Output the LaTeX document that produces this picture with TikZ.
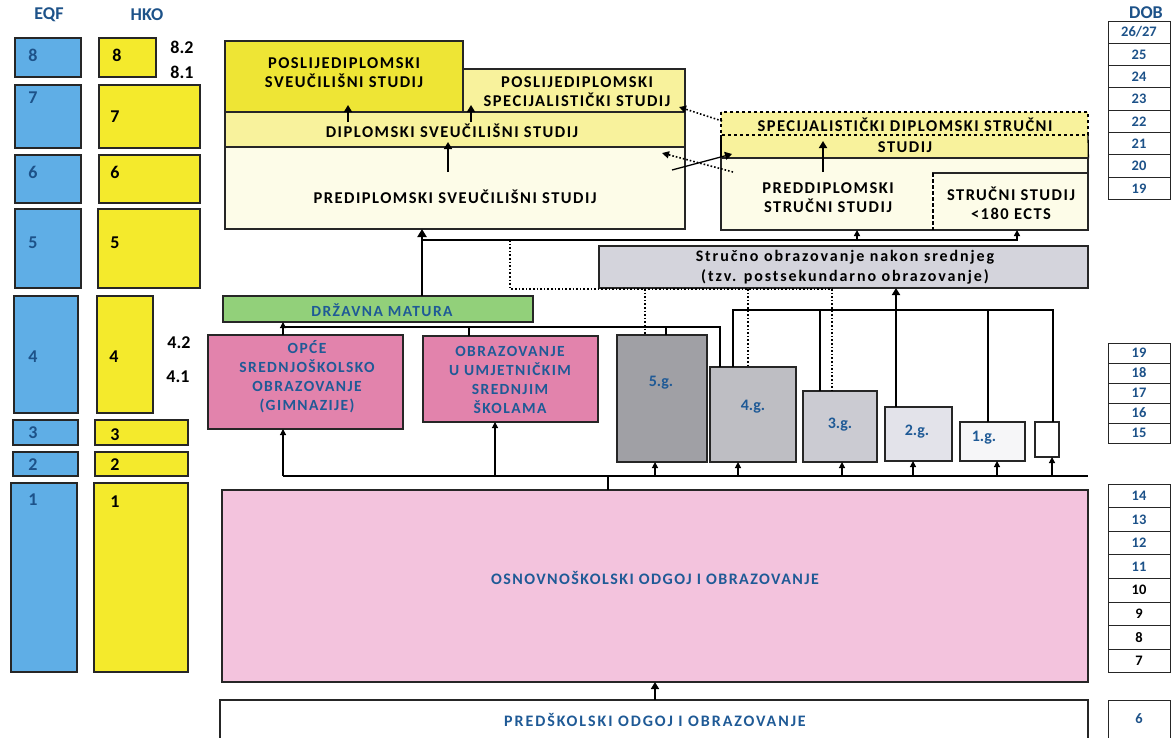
\documentclass[tikz,border=0pt]{standalone}
\usepackage{fontspec}
\setmainfont{Carlito}
\newfontfamily\lab[LetterSpace=9]{Carlito}
\newfontfamily\labw[LetterSpace=12]{Carlito}
\newfontfamily\labn{Carlito}
\usetikzlibrary{arrows.meta}
\definecolor{eqfblue}{HTML}{5FAEE6}
\definecolor{hkoyel}{HTML}{F4EA2C}
\definecolor{pdyel}{HTML}{EEE535}
\definecolor{ltyel}{HTML}{F8F29C}
\definecolor{paleyel}{HTML}{FDFCE8}
\definecolor{pinkA}{HTML}{E283AC}
\definecolor{pinkB}{HTML}{F3C3DD}
\definecolor{matgreen}{HTML}{92D07A}
\definecolor{grayb}{HTML}{D4D4DC}
\definecolor{gA}{HTML}{A0A0A5}
\definecolor{gB}{HTML}{BEBEC3}
\definecolor{gC}{HTML}{CBCBD2}
\definecolor{gD}{HTML}{E3E3EA}
\definecolor{gE}{HTML}{F6F6F8}
\definecolor{txtblue}{HTML}{1F5A96}
\definecolor{numblue}{HTML}{1D5289}
\begin{document}
\begin{tikzpicture}[x=1pt,y=-1pt,
  bx/.style={draw=black!85,line width=1.3pt,inner sep=0pt,outer sep=0pt,anchor=north west},
  tx/.style={inner sep=0pt,align=center,font=\lab\bfseries\fontsize{16.5}{19}\selectfont},
  txb/.style={tx,text=txtblue},
  num/.style={inner sep=0pt,font=\labn\bfseries\fontsize{18}{20}\selectfont},
  hdr/.style={inner sep=0pt,font=\labn\bfseries\fontsize{18}{20}\selectfont,text=numblue},
  dobbox/.style={bx,minimum width=62pt,line width=1pt},
  dobtx/.style={inner sep=0pt,font=\labn\bfseries\fontsize{14.5}{16}\selectfont,text=numblue},
  glab/.style={inner sep=0pt,font=\labn\bfseries\fontsize{16}{18}\selectfont,text=txtblue},
  arr/.style={-{Triangle[length=7pt,width=8pt]},line width=1.6pt},
  sarr/.style={-{Triangle[length=6pt,width=6pt]},line width=1.2pt},
  thk/.style={line width=2.6pt},
  thn/.style={line width=1.5pt},
  dotln/.style={dotted,line width=1.6pt}
]
\useasboundingbox[fill=white] (0,0) rectangle (1174,737);

% ---------- headers
\node[hdr] (hEQF) at (49,15) {EQF};
\node[hdr] (hHKO) at (147,15) {HKO};
\node[hdr] (hDOB) at (1146,13) {DOB};

% ---------- EQF column
\node[bx,fill=eqfblue,minimum width=66pt,minimum height=39pt] (e8) at (15,38) {};
\node[bx,fill=eqfblue,minimum width=66pt,minimum height=63pt] (e7) at (15,85) {};
\node[bx,fill=eqfblue,minimum width=66pt,minimum height=48pt] (e6) at (15,155) {};
\node[bx,fill=eqfblue,minimum width=66pt,minimum height=79pt] (e5) at (15,209) {};
\node[bx,fill=eqfblue,minimum width=64pt,minimum height=117pt] (e4) at (14,296) {};
\node[bx,fill=eqfblue,minimum width=65pt,minimum height=25pt] (e3) at (13,420) {};
\node[bx,fill=eqfblue,minimum width=65pt,minimum height=24pt] (e2) at (13,452) {};
\node[bx,fill=eqfblue,minimum width=66pt,minimum height=189pt] (e1) at (11,483) {};
\foreach \n/\yy in {8/55,7/98,6/172,5/243,4/357,3/433,2/465,1/500}
  \node[num,text=numblue] (ne\n) at (33,\yy) {\n};

% ---------- HKO column
\node[bx,fill=hkoyel,minimum width=57pt,minimum height=39pt] (h8) at (99,38) {};
\node[bx,fill=hkoyel,minimum width=101pt,minimum height=63pt] (h7) at (99,85) {};
\node[bx,fill=hkoyel,minimum width=101pt,minimum height=48pt] (h6) at (99,155) {};
\node[bx,fill=hkoyel,minimum width=102pt,minimum height=79pt] (h5) at (98,209) {};
\node[bx,fill=hkoyel,minimum width=56pt,minimum height=117pt] (h4) at (97,296) {};
\node[bx,fill=hkoyel,minimum width=93pt,minimum height=25pt] (h3) at (95,420) {};
\node[bx,fill=hkoyel,minimum width=93pt,minimum height=24pt] (h2) at (95,452) {};
\node[bx,fill=hkoyel,minimum width=94pt,minimum height=189pt] (h1) at (94,483) {};
\foreach \n/\xx/\yy in {8/117/55,7/115/117,6/115/172,5/115/243,4/114/357,3/115/435,2/115/465,1/115/502}
  \node[num] (nh\n) at (\xx,\yy) {\n};
\node[num] (s82) at (182,47) {8.2};
\node[num] (s81) at (182,72) {8.1};
\node[num] (s42) at (179,343) {4.2};
\node[num] (s41) at (178,377) {4.1};

% ---------- DOB column
\node[dobbox,minimum height=22pt] (dA0) at (1108,21) {};
\node[dobtx] (tA0) at (dA0.center) {26/27};
\foreach \t [count=\i from 1] in {25,24,23,22,21,20,19}{
  \node[dobbox,minimum height=22.3pt] (dA\i) at (1108,21+22.3*\i) {};
  \node[dobtx] (tA\i) at (dA\i.center) {\t};
}
\foreach \t [count=\i from 0] in {19,18,17,16,15}{
  \node[dobbox,minimum height=20pt] (dB\i) at (1108,343+20*\i) {};
  \node[dobtx] (tB\i) at (dB\i.center) {\t};
}
\foreach \t/\c [count=\i from 0] in {14/numblue,13/numblue,12/numblue,11/numblue,10/black,9/black,8/black,7/black}{
  \node[dobbox,minimum height=23.6pt] (dC\i) at (1108,484+23.6*\i) {};
  \node[dobtx,text=\c] (tC\i) at (dC\i.center) {\t};
}
\node[dobbox,minimum height=50pt] (dD) at (1108,700) {};
\node[dobtx] (tD) at (1139,719) {6};

% ---------- university block
\node[bx,fill=pdyel,minimum width=238pt,minimum height=71pt] (posl) at (225,41) {};
\node[bx,fill=ltyel,minimum width=222pt,minimum height=43pt] (pspec) at (463,69) {};
\node[bx,fill=ltyel,minimum width=460pt,minimum height=35pt] (dipl) at (225,112) {};
\node[bx,fill=paleyel,minimum width=460pt,minimum height=82pt] (predipl) at (225,147) {};
\node[tx] (tposl) at (344,73) {POSLIJEDIPLOMSKI\\SVEUČILIŠNI STUDIJ};
\node[tx] (tpspec) at (577,92) {POSLIJEDIPLOMSKI\\SPECIJALISTIČKI STUDIJ};
\node[tx] (tdipl) at (452,131) {DIPLOMSKI SVEUČILIŠNI STUDIJ};
\node[tx] (tpredipl) at (455,197) {PREDIPLOMSKI SVEUČILIŠNI STUDIJ};

% ---------- professional studies block
\node[anchor=north west,inner sep=0pt,fill=ltyel,minimum width=367pt,minimum height=46pt] (specd) at (721,112) {};
\draw[dashed,line width=1.5pt] (specd.north west) rectangle (1088,135);
\draw[line width=1.3pt] (721,135) -- (specd.south west);
\draw[line width=1.3pt] (1088,135) -- (specd.south east);
\node[bx,fill=paleyel,minimum width=367pt,minimum height=72pt] (preds) at (721,158) {};
\node[bx,fill=paleyel,minimum width=155pt,minimum height=57pt] (strs) at (933,173) {};
\draw[white,line width=2.6pt] (strs.north west) -- (strs.south west);
\draw[line width=2.6pt,dash pattern=on 4pt off 2pt] (strs.north west) -- (strs.south west);
\node[tx] (tspecd) at (905,125) {SPECIJALISTIČKI DIPLOMSKI STRUČNI};
\node[tx] (tspecd2) at (905,147) {STUDIJ};
\node[tx] (tpreds) at (828,198) {PREDDIPLOMSKI\\STRUČNI STUDIJ};
\node[tx] (tstrs) at (1011,203) {STRUČNI STUDIJ\\<180 ECTS};

% ---------- post-secondary
\node[bx,fill=grayb,minimum width=489pt,minimum height=42pt] (post) at (599,246) {};
\node[inner sep=0pt,font=\labw\bfseries\fontsize{16}{19}\selectfont] (tpost1) at (845,257) {Stručno obrazovanje nakon srednjeg};
\node[inner sep=0pt,font=\labw\bfseries\fontsize{16}{19}\selectfont] (tpost2) at (845,277) {(tzv. postsekundarno obrazovanje)};

% ---------- matura and secondary
\node[bx,fill=matgreen,minimum width=310pt,minimum height=26pt] (mat) at (223,296) {};
\node[txb,font=\lab\bfseries\fontsize{15.5}{19}\selectfont] (tmat) at (382,310) {DRŽAVNA MATURA};
\node[bx,fill=pinkA,minimum width=195pt,minimum height=94pt] (gim) at (208,335) {};
\node[txb,font=\lab\bfseries\fontsize{15.5}{19}\selectfont] (tgim) at (307,377) {OPĆE\\SREDNJOŠKOLSKO\\OBRAZOVANJE\\(GIMNAZIJE)};
\node[bx,fill=pinkA,minimum width=175pt,minimum height=86pt] (umj) at (423,336) {};
\node[txb,font=\lab\bfseries\fontsize{15.5}{19}\selectfont] (tumj) at (510,380) {OBRAZOVANJE\\U UMJETNIČKIM\\SREDNJIM\\ŠKOLAMA};

\node[bx,fill=gA,minimum width=90pt,minimum height=127pt] (g5) at (617,335) {};
\node[bx,fill=gB,minimum width=86pt,minimum height=95pt] (g4) at (710,367) {};
\node[bx,fill=gC,minimum width=74pt,minimum height=71pt] (g3) at (803,391) {};
\node[bx,fill=gD,minimum width=67pt,minimum height=54pt] (g2) at (885,407) {};
\node[bx,fill=gE,minimum width=65pt,minimum height=39pt] (g1) at (960,422) {};
\node[bx,fill=white,minimum width=24pt,minimum height=35pt] (g0) at (1035,422) {};
\node[glab] (t5) at (661,383) {5.g.};
\node[glab] (t4) at (753,407) {4.g.};
\node[glab] (t3) at (840,425) {3.g.};
\node[glab] (t2) at (917,432) {2.g.};
\node[glab] (t1) at (984,438) {1.g.};

% ---------- basic and pre-school
\node[bx,fill=pinkB,minimum width=866pt,minimum height=192pt] (osn) at (222,490) {};
\node[txb,font=\lab\bfseries\fontsize{16}{19}\selectfont] (tosn) at (655,578) {OSNOVNOŠKOLSKI ODGOJ I OBRAZOVANJE};
\node[bx,fill=white,minimum width=868pt,minimum height=60pt] (pred) at (220,700) {};
\node[txb,font=\labw\bfseries\fontsize{16}{18}\selectfont] (tpred) at (655,720) {PREDŠKOLSKI ODGOJ I OBRAZOVANJE};

% ---------- connectors: university
\draw[arr,shorten >=-7pt] (348,122) -- (348,0 |- posl.south);
\draw[arr,shorten >=-7pt] (471,122) -- (471,0 |- pspec.south);
\draw[arr,shorten >=-5pt] (448,172) -- (448,0 |- dipl.south);
\draw[arr,line width=2pt] (823,172) -- (823,141);
\draw[dotln,-{Triangle[length=7pt,width=7pt]}] (722,121) -- (679,107);
\draw[dotln,-{Triangle[length=7pt,width=7pt]}] (733,172) -- (662,153);
\draw[arr,line width=1.3pt] (672,170) -- (732,154);

% ---------- connectors: matura upwards
\draw[thk,-{Triangle[length=8pt,width=9pt]}] (422,0 |- mat.north) -- (422,0 |- predipl.south);
\coordinate (m1) at (422,240);
\draw[sarr,line width=1.5pt] (m1) -- (1017,240) -- (1017,0 |- strs.south);
\draw[sarr,line width=1.5pt] (857,240) -- (857,0 |- preds.south);
\draw[dotln] (510,240) -- (510,289) -- (833,289);
\draw[dotln] (645,289) -- (645,0 |- g5.north);
\draw[dotln] (748,289) -- (748,0 |- g4.north);
\draw[dotln] (832,289) -- (832,0 |- g3.north);

% ---------- connectors: secondary to matura
\coordinate (mb) at (283,327);
\draw[sarr] (283,0 |- gim.north) -- (283,0 |- mat.south);
\draw[thn] (mb) -- (720,327) -- (720,0 |- g4.north);
\draw[thn] (469,327) -- (469,0 |- umj.north);
\draw[thn] (666,327) -- (666,0 |- g5.north);

% ---------- vocational tree
\draw[thk] (733,0 |- g4.north) -- (733,310) -- (1053,310) -- (1053,0 |- g0.north);
\draw[thk] (820,310) -- (820,0 |- g3.north);
\draw[thk] (896,310) -- (896,0 |- g2.north);
\draw[thn] (988,310) -- (988,0 |- g1.north);
\draw[arr,line width=2.4pt] (896,310) -- (896,0 |- post.south);

% ---------- bottom distribution line
\coordinate (bl) at (283,476);
\coordinate (blr) at (1088,476);
\draw[thk,line width=2pt] (bl) -- (blr);
\foreach \xx/\tg in {283/gim,495/umj,655/g5,738/g4,842/g3,913/g2,997/g1,1052/g0}
  \draw[sarr] (\xx,476) -- (\xx,0 |- \tg.south);
\draw[thn] (608,0 |- osn.north) -- (608,0 |- bl);
\draw[arr] (655,0 |- pred.north) -- (655,0 |- osn.south);
\end{tikzpicture}
\end{document}
